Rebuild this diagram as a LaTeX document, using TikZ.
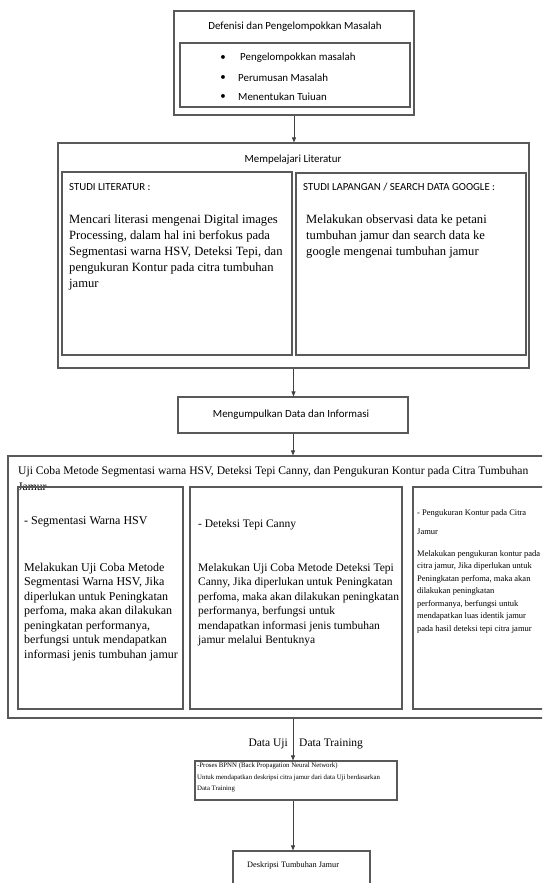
\documentclass[tikz,border=0pt]{standalone}
\usepackage{fontspec}
\setmainfont{Liberation Serif}
\newfontfamily\calibri{Carlito}
\usetikzlibrary{arrows.meta,positioning,calc}

\begin{document}
\begin{tikzpicture}[
    x=1pt, y=-1pt,
    box/.style={rectangle, draw=black!65, line width=1.1pt, inner sep=0pt},
    head/.style={font=\calibri\fontsize{10.9}{13}\selectfont, inner sep=0pt},
    studi/.style={font=\calibri\fontsize{10.8}{12}\selectfont, anchor=west, inner sep=0pt},
    body/.style={font=\fontsize{12.6}{16}\selectfont, align=left, anchor=north west, inner sep=0pt},
    ujibody/.style={font=\fontsize{11.5}{14.5}\selectfont, align=left, anchor=north west, inner sep=0pt},
    kecil/.style={font=\fontsize{8.5}{12.5}\selectfont, align=left, anchor=north west, inner sep=0pt},
    arrow/.style={-{Triangle[length=5pt,width=4pt]}, line width=0.8pt, draw=black!75}
]
\useasboundingbox (0,0) rectangle (542,883);
\clip (0,0) rectangle (542,883);

% definisi masalah
\node[box, minimum width=240pt, minimum height=104pt] (defbox) at (294,63) {};
\node[box, minimum width=230pt, minimum height=64pt] (deflist) at (295,75) {};
\node[head] (deftitle) at (295,27) {Defenisi dan Pengelompokkan Masalah};
\node[head] (bul1) at (223,58) {•};
\node[head] (bul2) at (223,78) {•};
\node[head] (bul3) at (223,97) {•};
\node[head, anchor=west] (item1) at (240,58) {Pengelompokkan masalah};
\node[head, anchor=west] (item2) at (238,78) {Perumusan Masalah};
\node[head, anchor=west] (item3) at (238,97) {Menentukan Tuiuan};

% literatur
\node[box, minimum width=471pt, minimum height=225pt] (litbox) at (293.5,255.5) {};
\node[head] (littitle) at (293,160) {Mempelajari Literatur};
\node[box, minimum width=230pt, minimum height=183pt] (studibox) at (177,263.5) {};
\node[box, minimum width=230pt, minimum height=182pt] (lapbox) at (411,264) {};
\node[studi] (studihead) at (69,187) {STUDI LITERATUR :};
\node[studi] (laphead) at (303,187) {STUDI LAPANGAN / SEARCH DATA GOOGLE :};
\node[body] (studitext) at (69,215) {Mencari literasi mengenai Digital images\\
    Processing, dalam hal ini berfokus pada\\
    Segmentasi warna HSV, Deteksi Tepi, dan\\
    pengukuran Kontur pada citra tumbuhan\\
    jamur};
\node[body] (laptext) at (306,215) {Melakukan observasi data ke petani\\
    tumbuhan jamur dan search data ke\\
    google mengenai tumbuhan jamur};

% pengumpulan data
\node[box, minimum width=230pt, minimum height=36pt] (kumpulbox) at (293,415) {};
\node[head] (kumpultext) at (291,415) {Mengumpulkan Data dan Informasi};

% uji coba
\node[font=\fontsize{11.6}{16}\selectfont, align=left, anchor=north west, inner sep=0pt]
    (ujititle) at (18,466.5) {Uji Coba Metode Segmentasi warna HSV, Deteksi Tepi Canny, dan Pengukuran Kontur pada Citra Tumbuhan\\Jamur};
\node[box, minimum width=570pt, minimum height=262pt] (ujibox) at (293,587) {};
\node[box, minimum width=165pt, minimum height=222pt] (hsvbox) at (100.5,598) {};
\node[box, minimum width=212pt, minimum height=222pt] (cannybox) at (296,598) {};
\node[box, minimum width=147pt, minimum height=222pt] (konturbox) at (486.5,598) {};

\node[ujibody, font=\fontsize{12}{14.5}\selectfont] (hsvhead) at (24,516) {- Segmentasi Warna HSV};
\node[ujibody, font=\fontsize{12}{14.5}\selectfont] (hsvtext) at (24,562.5) {Melakukan Uji Coba Metode\\
    Segmentasi Warna HSV, Jika\\
    diperlukan untuk Peningkatan\\
    perfoma, maka akan dilakukan\\
    peningkatan performanya,\\
    berfungsi untuk mendapatkan\\
    informasi jenis tumbuhan jamur};
\node[ujibody] (cannyhead) at (198,519.5) {- Deteksi Tepi Canny};
\node[ujibody] (cannytext) at (198,563) {Melakukan Uji Coba Metode Deteksi Tepi\\
    Canny, Jika diperlukan untuk Peningkatan\\
    perfoma, maka akan dilakukan peningkatan\\
    performanya, berfungsi untuk\\
    mendapatkan informasi jenis tumbuhan\\
    jamur melalui Bentuknya};
\node[kecil, font=\fontsize{8.5}{19}\selectfont] (konturhead) at (417,509) {- Pengukuran Kontur pada Citra\\Jamur};
\node[kecil] (konturtext) at (417,550) {Melakukan pengukuran kontur pada\\
    citra jamur, Jika diperlukan untuk\\
    Peningkatan perfoma, maka akan\\
    dilakukan peningkatan\\
    performanya, berfungsi untuk\\
    mendapatkan luas identik jamur\\
    pada hasil deteksi tepi citra jamur};

% bpnn
\node[font=\fontsize{11.5}{14}\selectfont, anchor=east, inner sep=0pt] (datauji) at (288,744) {Data Uji};
\node[font=\fontsize{11.5}{14}\selectfont, anchor=west, inner sep=0pt] (datatrain) at (299,744) {Data Training};
\node[box, minimum width=202pt, minimum height=39pt] (bpnnbox) at (296,780.5) {};
\node[font=\fontsize{6.8}{11.5}\selectfont, align=left, anchor=north west, inner sep=0pt]
    (bpnntext) at (197,763) {-Proses BPNN (Back Propagation Neural Network)\\
    Untuk mendapatkan deskripsi citra jamur dari data Uji berdasarkan\\
    Data Training};

% hasil
\node[box, minimum width=137pt, minimum height=45pt] (deskbox) at (301.5,873.5) {};
\node[font=\fontsize{8.3}{10}\selectfont, anchor=west, inner sep=0pt] (desktext) at (247,865) {Deskripsi Tumbuhan Jamur};

\draw[arrow] (defbox.south) -- (defbox.south |- litbox.north);
\draw[arrow] (litbox.south) -- (litbox.south |- kumpulbox.north);
\draw[arrow] (kumpulbox.south) -- (kumpulbox.south |- ujibox.north);
\draw[arrow] (ujibox.south) -- (ujibox.south |- bpnnbox.north);
\draw[arrow] (ujibox.south |- bpnnbox.south) -- (ujibox.south |- deskbox.north);

\end{tikzpicture}
\end{document}
